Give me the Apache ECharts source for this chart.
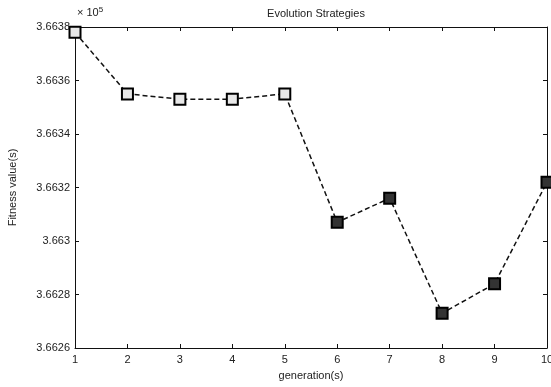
<!DOCTYPE html>
<html>
<head>
    <meta charset="utf-8"/>
    <title>Evolution Strategies</title>
    <script src="https://cdn.jsdelivr.net/npm/echarts@6/dist/echarts.min.js"></script>
    <style>
        html, body { margin: 0; padding: 0; background: #fff; }
        #chart { width: 551px; height: 387px; }
    </style>
</head>
<body>
<div id="chart"></div>
<script>
    // generations 1..10 and the fitness value (x 10^5)
    var generations = [1, 2, 3, 4, 5, 6, 7, 8, 9, 10];
    var fitness = [3.66378, 3.66355, 3.66353, 3.66353, 3.66355, 3.66307, 3.66316, 3.66273, 3.66284, 3.66322];
    var yTicks = [3.6626, 3.6628, 3.663, 3.6632, 3.6634, 3.6636, 3.6638];

    var pts = generations.map(function (g, i) { return [g, fitness[i]]; });
    var font = 'Liberation Sans';

    // plain axis for the mirrored ticks on top / right (matlab box style)
    function mirror(base, pos) {
        return Object.assign({}, base, {
            position: pos, name: '',
            axisLabel: { show: false }
        });
    }

    var xBase = {
        type: 'value', min: 1, max: 10, interval: 1,
        axisLine: { lineStyle: { color: '#111' } },
        axisTick: { inside: true, length: 4, lineStyle: { color: '#111' } },
        splitLine: { show: false }
    };
    var yBase = {
        type: 'value', min: yTicks[0], max: yTicks[yTicks.length - 1], interval: 0.0002,
        axisLine: { lineStyle: { color: '#111' } },
        axisTick: { inside: true, length: 4, lineStyle: { color: '#111' } },
        splitLine: { show: false }
    };

    var myChart = echarts.init(document.getElementById('chart'));
    var option = {
        animation: false,
        title: {
            text: 'Evolution Strategies',
            left: 311, top: 3, textAlign: 'center',
            textStyle: { fontFamily: font, fontSize: 11, fontWeight: 'normal', color: '#222' }
        },
        grid: {
            left: 75, right: 4, top: 27, bottom: 39,
            outerBoundsMode: 'none', containLabel: false
        },
        xAxis: [
            Object.assign({}, xBase, {
                position: 'bottom',
                name: 'generation(s)', nameLocation: 'middle', nameGap: 22,
                nameTextStyle: { fontFamily: font, fontSize: 11, color: '#222' },
                axisLabel: { fontFamily: font, fontSize: 11, color: '#222', margin: 6 }
            }),
            mirror(xBase, 'top')
        ],
        yAxis: [
            Object.assign({}, yBase, {
                position: 'left',
                name: 'Fitness value(s)', nameLocation: 'middle', nameGap: 57,
                nameTextStyle: { fontFamily: font, fontSize: 11, color: '#222' },
                axisLabel: {
                    fontFamily: font, fontSize: 11, color: '#222', margin: 5,
                    formatter: function (v) { return String(+v.toFixed(4)); }
                }
            }),
            mirror(yBase, 'right')
        ],
        graphic: [{
            type: 'text', left: 77, top: 6,
            style: {
                text: '× 10{s|5}',
                font: '11px ' + font, fill: '#222',
                rich: { s: { fontSize: 8, verticalAlign: 'top', padding: [0, 0, 6, 0], fill: '#222' } }
            }
        }],
        series: [{
            type: 'line',
            data: pts,
            symbol: 'rect', symbolSize: 11,
            lineStyle: { color: '#111', width: 1.5, type: [5, 3] },
            itemStyle: {
                borderColor: '#000', borderWidth: 2,
                color: function (p) { return p.dataIndex >= 5 ? '#333' : '#e8e8e8'; }
            }
        }]
    };
    myChart.setOption(option);
</script>
</body>
</html>
